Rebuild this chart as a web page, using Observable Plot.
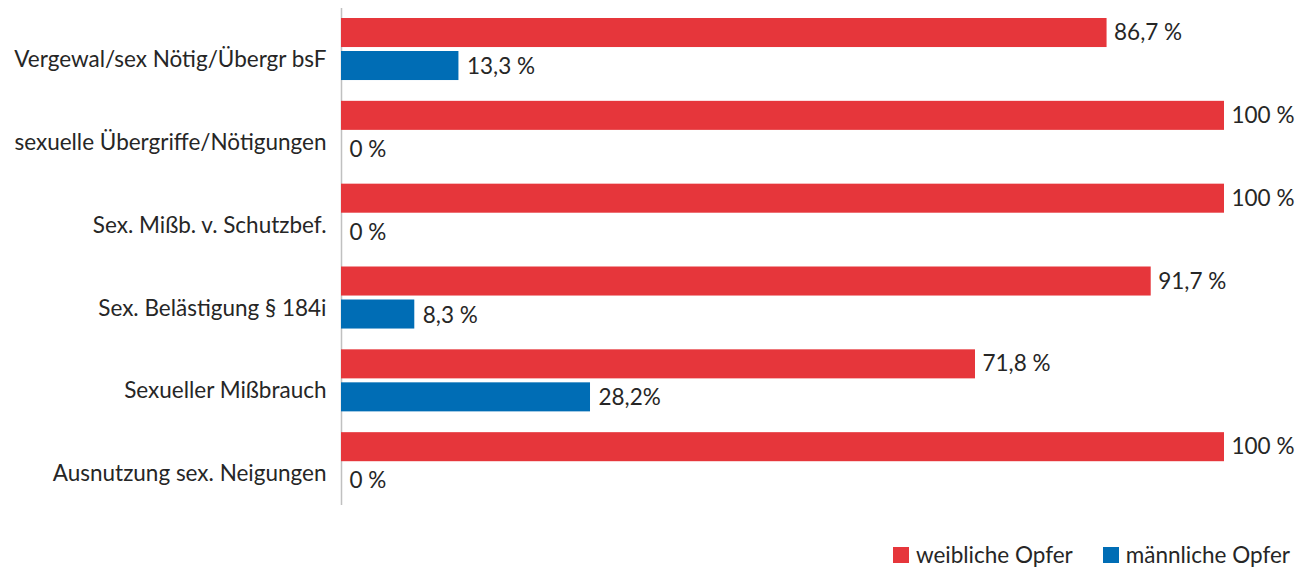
<!DOCTYPE html>
<html>
<head>
<meta charset="utf-8">
<script src="https://cdn.jsdelivr.net/npm/d3@7"></script>
<script src="https://cdn.jsdelivr.net/npm/@observablehq/plot@0.6"></script>
<style>
  body { margin: 0; background: #fff; font-family: Lato, sans-serif; }
  #legend { display: flex; justify-content: flex-end; gap: 30px; padding-right: 15px; margin-top: 31px; font-size: 22.5px; color: #262626; }
  .item { display: flex; align-items: center; gap: 7px; }
  .sw { width: 16px; height: 16px; display: inline-block; }
</style>
</head>
<body>
<div id="chart"></div>
<div id="legend"></div>
<script>
const categories = ["Vergewal/sex Nötig/Übergr bsF", "sexuelle Übergriffe/Nötigungen", "Sex. Mißb. v. Schutzbef.", "Sex. Belästigung § 184i", "Sexueller Mißbrauch", "Ausnutzung sex. Neigungen"];
const weiblich = [86.7, 100, 100, 91.7, 71.8, 100];
const maennlich = [13.3, 0, 0, 8.3, 28.2, 0];
const labelsW = ["86,7 %", "100 %", "100 %", "91,7 %", "71,8 %", "100 %"];
const labelsM = ["13,3 %", "0 %", "0 %", "8,3 %", "28,2%", "0 %"];
const seriesNames = ["weibliche Opfer", "männliche Opfer"];
const colors = ["#E6363B", "#006DB5"];

const rowsW = categories.map((c, i) => ({cat: c, v: weiblich[i], label: labelsW[i]}));
const rowsM = categories.map((c, i) => ({cat: c, v: maennlich[i], label: labelsM[i]}));

const chart = Plot.plot({
  width: 1305,
  height: 510,
  marginLeft: 341,
  marginRight: 81,
  marginTop: 8,
  marginBottom: 5,
  style: {fontFamily: "Lato, sans-serif", fontSize: "22.5px", color: "#262626"},
  x: {domain: [0, 100], axis: null},
  y: {domain: categories, padding: 0, round: false, label: null},
  marks: [
    Plot.axisY({tickSize: 0, tickPadding: 15, dy: 10, fontSize: 22.5, label: null, fill: "#262626"}),
    Plot.ruleX([0], {stroke: "#c0c0c0", strokeWidth: 1.5}),
    Plot.barX(rowsW, {y: "cat", x: "v", fill: colors[0], insetTop: 10, insetBottom: 43.8}),
    Plot.barX(rowsM, {y: "cat", x: "v", fill: colors[1], insetTop: 43, insetBottom: 10.8}),
    Plot.text(rowsW, {y: "cat", x: "v", text: "label", textAnchor: "start", dx: 7, dy: -17, fontSize: 22.5, fill: "#262626"}),
    Plot.text(rowsM, {y: "cat", x: "v", text: "label", textAnchor: "start", dx: 8, dy: 17, fontSize: 22.5, fill: "#262626"})
  ]
});
document.getElementById("chart").appendChild(chart);

const legend = document.getElementById("legend");
seriesNames.forEach((n, i) => {
  const it = document.createElement("div");
  it.className = "item";
  it.innerHTML = `<span class="sw" style="background:${colors[i]}"></span><span>${n}</span>`;
  legend.appendChild(it);
});
</script>
</body>
</html>
